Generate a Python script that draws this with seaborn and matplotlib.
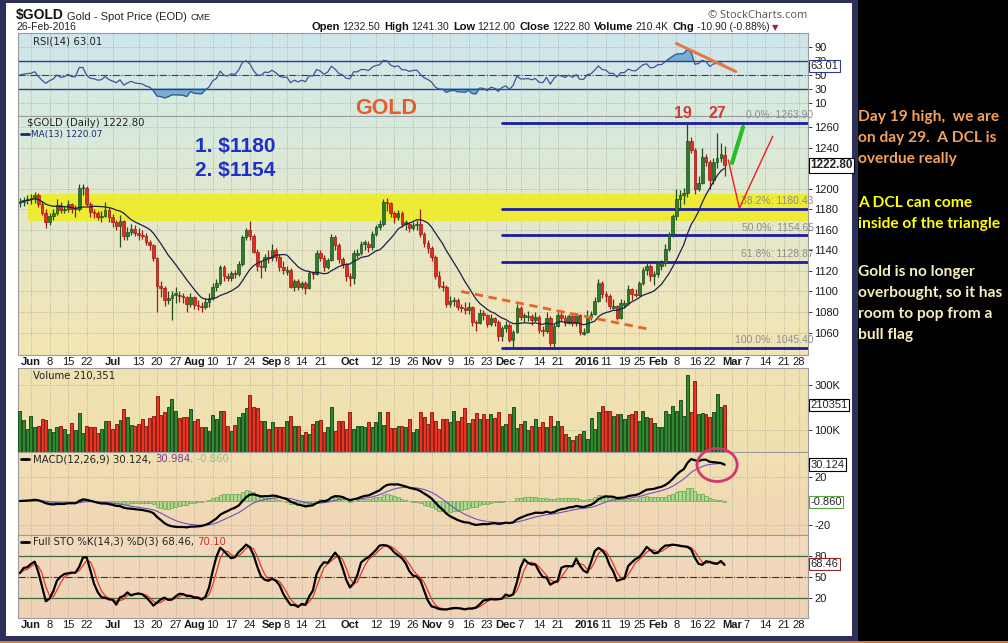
import numpy as np
import pandas as pd
import seaborn as sns
import matplotlib.pyplot as plt
from matplotlib.colors import to_rgb
from matplotlib.patches import Rectangle, Ellipse

# -------------------------------------------------
# 1. Daily $GOLD candles
# -------------------------------------------------
holidays = ["2015-07-03", "2015-09-07", "2015-11-26", "2015-12-25",
            "2016-01-01", "2016-01-18", "2016-02-15", "2016-03-25"]
calendar = pd.bdate_range("2015-05-27", "2016-03-31")
calendar = calendar[~calendar.isin(pd.to_datetime(holidays))]

opens = [
    1186, 1187, 1189,  # May
    1190, 1191, 1194, 1185, 1176, 1168, 1173, 1176, 1184, 1179, 1180, 1185, 1180, 1180, 1201, 1201,
    1185, 1177, 1176, 1172, 1173, 1179,  # Jun
    1172, 1168, 1164, 1169, 1154, 1158, 1161, 1157, 1155, 1154, 1148, 1145, 1133, 1105, 1103, 1092,
    1094, 1099, 1097, 1096, 1095, 1088,  # Jul
    1095, 1087, 1086, 1085, 1090, 1094, 1104, 1108, 1124, 1115, 1113, 1118, 1117, 1127, 1153, 1160,
    1154, 1138, 1125, 1124, 1134,  # Aug
    1133, 1140, 1134, 1124, 1119, 1121, 1104, 1110, 1104, 1108, 1103, 1118, 1117, 1137, 1133, 1124,
    1131, 1153, 1145, 1132, 1127,  # Sep
    1115, 1113, 1135, 1137, 1148, 1146, 1143, 1156, 1163, 1166, 1187, 1186, 1176, 1172, 1176, 1168,
    1166, 1162, 1165, 1166, 1156, 1147,  # Oct
    1142, 1134, 1115, 1105, 1104, 1088, 1091, 1092, 1085, 1084, 1082, 1085, 1070, 1069, 1079, 1077,
    1068, 1074, 1070, 1057,  # Nov
    1064, 1067, 1053, 1061, 1084, 1077, 1075, 1076, 1072, 1075, 1063, 1062, 1074, 1050, 1066, 1077,
    1074, 1069, 1076, 1069, 1077, 1059,  # Dec
    1061, 1075, 1078, 1091, 1108, 1098, 1096, 1084, 1086, 1074, 1087, 1089, 1102, 1098, 1097, 1108,
    1121, 1125, 1115,  # Jan
    1117, 1125, 1128, 1141, 1156, 1173, 1190, 1194, 1196, 1246, 1238, 1200, 1206, 1231, 1226, 1208,
    1226, 1230, 1232.5,  # Feb
]
highs = [
    1191, 1192, 1194,
    1195, 1197, 1196, 1188, 1180, 1176, 1180, 1190, 1187, 1183, 1189, 1186, 1184, 1205, 1205, 1203,
    1187, 1180, 1178, 1178, 1187, 1182,
    1175, 1170, 1174, 1170, 1163, 1166, 1165, 1162, 1160, 1157, 1150, 1146, 1134, 1110, 1105, 1100,
    1100, 1104, 1100, 1099, 1096, 1099,
    1096, 1092, 1090, 1094, 1099, 1108, 1112, 1126, 1126, 1118, 1120, 1121, 1130, 1155, 1162, 1169,
    1156, 1141, 1130, 1136, 1140,
    1146, 1142, 1136, 1130, 1125, 1123, 1112, 1112, 1110, 1110, 1120, 1120, 1140, 1140, 1135, 1133,
    1156, 1155, 1147, 1134, 1128,
    1118, 1140, 1141, 1149, 1150, 1149, 1159, 1165, 1170, 1190, 1191, 1187, 1178, 1179, 1178, 1170,
    1168, 1168, 1170, 1180, 1158, 1150,
    1144, 1135, 1120, 1110, 1106, 1096, 1095, 1094, 1088, 1090, 1090, 1086, 1072, 1083, 1082, 1078,
    1078, 1075, 1072, 1066,
    1071, 1069, 1063, 1088, 1086, 1079, 1081, 1078, 1080, 1077, 1066, 1080, 1076, 1068, 1080, 1080,
    1077, 1078, 1078, 1079, 1078, 1064,
    1082, 1081, 1095, 1112, 1110, 1100, 1098, 1093, 1087, 1093, 1092, 1106, 1103, 1102, 1110, 1124,
    1128, 1127, 1120,
    1130, 1131, 1146, 1158, 1175, 1200, 1199, 1201, 1263.9, 1250, 1240, 1212, 1240, 1234, 1228, 1230,
    1254, 1244, 1241.3,
]
lows = [
    1182, 1183, 1185,
    1185, 1186, 1182, 1174, 1162, 1165, 1170, 1174, 1176, 1176, 1177, 1176, 1172, 1178, 1194, 1183,
    1172, 1171, 1170, 1168, 1172, 1168,
    1163, 1160, 1143, 1150, 1150, 1155, 1154, 1150, 1151, 1145, 1140, 1130, 1080, 1095, 1086, 1088,
    1072, 1089, 1090, 1089, 1080, 1085,
    1083, 1082, 1080, 1083, 1085, 1092, 1100, 1106, 1110, 1110, 1110, 1113, 1115, 1125, 1150, 1150,
    1137, 1120, 1113, 1120, 1128,
    1130, 1130, 1120, 1117, 1116, 1103, 1100, 1101, 1102, 1098, 1102, 1112, 1116, 1130, 1120, 1122,
    1130, 1140, 1128, 1123, 1110,
    1105, 1107, 1133, 1135, 1140, 1138, 1140, 1154, 1160, 1164, 1178, 1172, 1167, 1170, 1163, 1160,
    1158, 1160, 1160, 1153, 1143, 1137,
    1130, 1112, 1103, 1100, 1085, 1085, 1086, 1082, 1080, 1078, 1078, 1066, 1062, 1068, 1072, 1065,
    1066, 1066, 1052, 1052,
    1061, 1051, 1045.4, 1060, 1072, 1070, 1071, 1067, 1070, 1060, 1057, 1060, 1047, 1046, 1065, 1070,
    1066, 1068, 1066, 1066, 1058, 1058,
    1060, 1072, 1077, 1090, 1094, 1090, 1083, 1083, 1072, 1073, 1084, 1087, 1092, 1095, 1096, 1106,
    1116, 1110, 1106,
    1114, 1121, 1125, 1139, 1153, 1170, 1181, 1185, 1192, 1235, 1195, 1198, 1205, 1222, 1200, 1205,
    1220, 1226, 1212,
]
closes = [
    1187, 1189, 1190,
    1191, 1194, 1185, 1176, 1168, 1173, 1176, 1184, 1179, 1180, 1185, 1180, 1180, 1201, 1201, 1185,
    1177, 1176, 1172, 1173, 1179, 1172,
    1168, 1164, 1169, 1154, 1158, 1161, 1157, 1155, 1154, 1148, 1145, 1133, 1105, 1103, 1092, 1094,
    1097, 1097, 1096, 1095, 1088, 1095,
    1087, 1086, 1085, 1090, 1094, 1104, 1108, 1124, 1115, 1113, 1118, 1117, 1127, 1153, 1160, 1154,
    1138, 1125, 1124, 1134, 1133,
    1140, 1134, 1124, 1121, 1121, 1104, 1110, 1104, 1108, 1103, 1118, 1117, 1137, 1133, 1124, 1131,
    1153, 1145, 1132, 1127, 1115,
    1113, 1137, 1137, 1146, 1146, 1143, 1156, 1163, 1166, 1187, 1186, 1176, 1172, 1176, 1166, 1166,
    1162, 1165, 1166, 1156, 1147, 1142,
    1134, 1115, 1105, 1104, 1088, 1091, 1092, 1085, 1084, 1082, 1085, 1070, 1069, 1079, 1077, 1068,
    1074, 1070, 1057, 1064,
    1067, 1053, 1061, 1084, 1075, 1075, 1076, 1072, 1075, 1063, 1062, 1074, 1050, 1066, 1077, 1074,
    1069, 1076, 1069, 1077, 1061, 1061,
    1075, 1078, 1091, 1108, 1098, 1096, 1086, 1086, 1074, 1089, 1089, 1102, 1098, 1097, 1108, 1121,
    1125, 1115, 1117,
    1128, 1128, 1141, 1156, 1173, 1190, 1194, 1196, 1246, 1238, 1200, 1206, 1231, 1226, 1208, 1226,
    1230, 1233.7, 1222.8,
]
# volume in thousands
volumes = [
    185, 143, 103, 163, 110, 118, 148, 143, 103, 88, 110,
    118, 103, 80, 128, 98, 173, 83, 118, 110, 110,
    83, 103, 137, 140, 103, 125, 143, 192, 158, 122, 118,
    125, 148, 118, 152, 163, 252, 167, 177, 200, 237,
    182, 152, 155, 155, 192, 140, 148, 110, 110, 95, 167,
    148, 185, 182, 118, 95, 122, 155, 173, 197, 255,
    200, 197, 140, 137, 103, 133, 110, 110, 113, 137,
    163, 118, 118, 78, 88, 80, 125, 140, 143, 88,
    110, 200, 95, 137, 137, 103, 177, 103, 118, 118,
    110, 133, 113, 133, 180, 120, 180, 107, 107, 118, 118,
    110, 148, 88, 103, 177, 155, 125,
    177, 140, 103, 148, 148, 133, 182, 137, 155, 197,
    128, 148, 173, 148, 170, 148, 170, 152, 177, 118,
    125, 170, 203, 107, 125, 137, 98, 118, 148, 113,
    133, 110, 163, 118, 140, 118, 80, 69, 54, 73,
    80, 92, 58, 152, 103, 177, 207, 185, 185, 163,
    170, 170, 148, 167, 170, 182, 140, 185, 158, 152,
    128, 110, 110, 182, 170, 207, 185, 233, 163,
    344, 177, 319, 170, 173, 170, 158, 177, 260, 200, 210,
]

# annotations drawn on the chart
band_low, band_high = 1169, 1195
fib_start = "2015-11-30"
fib_levels = [1263.90, 1180.43, 1154.65, 1128.87, 1045.40]
fib_labels = ["0.0%: 1263.90", "38.2%: 1180.43", "50.0%: 1154.65", "61.8%: 1128.87", "100.0%: 1045.40"]
trend_dates = ["2015-11-12", "2016-01-28"]
trend_prices = [1100, 1063]
green_dates = ["2016-03-01", "2016-03-04"]
green_prices = [1225, 1260]
red_dates = ["2016-02-29", "2016-03-03", "2016-03-16"]
red_prices = [1228, 1181, 1251]
rsi_line_dates = ["2016-02-08", "2016-03-02"]
rsi_line_values = [95, 55]
circle_date, circle_macd = "2016-02-24", 30

tick_dates = ["2015-06-01", "2015-06-08", "2015-06-15", "2015-06-22", "2015-07-01", "2015-07-13",
              "2015-07-20", "2015-07-27", "2015-08-03", "2015-08-10", "2015-08-17", "2015-08-24",
              "2015-09-01", "2015-09-08", "2015-09-14", "2015-09-21", "2015-10-01", "2015-10-12",
              "2015-10-19", "2015-10-26", "2015-11-02", "2015-11-09", "2015-11-16", "2015-11-23",
              "2015-12-01", "2015-12-07", "2015-12-14", "2015-12-21", "2016-01-04", "2016-01-11",
              "2016-01-19", "2016-01-25", "2016-02-01", "2016-02-08", "2016-02-16", "2016-02-22",
              "2016-03-01", "2016-03-07", "2016-03-14", "2016-03-21", "2016-03-28"]
tick_labels = ["Jun", "8", "15", "22", "Jul", "13", "20", "27", "Aug", "10", "17", "24",
               "Sep", "8", "14", "21", "Oct", "12", "19", "26", "Nov", "9", "16", "23",
               "Dec", "7", "14", "21", "2016", "11", "19", "25", "Feb", "8", "16", "22",
               "Mar", "7", "14", "21", "28"]
price_ticks = [1060, 1080, 1100, 1120, 1140, 1160, 1180, 1200, 1220, 1240, 1260]
price_tick_labels = ["1060", "1080", "1100", "1120", "1140", "1160", "1180", "1200", "", "1240", "1260"]

# -------------------------------------------------
# 2. Indicators
# -------------------------------------------------
def pos(d):
    return calendar.get_loc(pd.Timestamp(d))

o = np.array(opens, float)
h = np.array(highs, float)
l = np.array(lows, float)
c = np.array(closes, float)
v = np.array(volumes, float)
n = len(c)
xi = np.arange(n)
cs = pd.Series(c)

ma13 = cs.rolling(13, min_periods=1).mean()

avg_gain, avg_loss = 3.0, 3.0
rsi = [50.0]
for d in np.diff(c):
    avg_gain = (avg_gain * 13 + max(d, 0)) / 14
    avg_loss = (avg_loss * 13 + max(-d, 0)) / 14
    rsi.append(100 - 100 / (1 + avg_gain / avg_loss))
rsi = np.array(rsi)

macd = cs.ewm(span=12, adjust=False).mean() - cs.ewm(span=26, adjust=False).mean()
signal = macd.ewm(span=9, adjust=False).mean()
hist = macd - signal

ll = pd.Series(l).rolling(14, min_periods=1).min()
hh = pd.Series(h).rolling(14, min_periods=1).max()
fast_k = 100 * (cs - ll) / (hh - ll)
full_k = fast_k.rolling(3, min_periods=1).mean()
full_d = full_k.rolling(3, min_periods=1).mean()

up = np.r_[c[0] >= o[0], c[1:] >= c[:-1]]

# -------------------------------------------------
# 3. Figure and panels
# -------------------------------------------------
sns.set_style("white")
plt.rcParams["font.family"] = ["Liberation Sans", "DejaVu Sans"]

W, H = 1008, 643
fig = plt.figure(figsize=(W / 100, H / 100), dpi=100, facecolor="black")

def frame(x0, y0, x1, y1, color, z):
    fig.add_artist(Rectangle((x0 / W, 1 - y1 / H), (x1 - x0) / W, (y1 - y0) / H,
                             transform=fig.transFigure, color=color, zorder=z, lw=0))

frame(0, 0, 858, 641, "#2d3157", -10)
frame(6, 3, 852, 636, "white", -9)
frame(0, 641, W, 643, "#e0782c", -9)

def box(top, bottom):
    return [18 / W, 1 - bottom / H, 790 / W, (bottom - top) / H]

ax_rsi = fig.add_axes(box(33, 116))
ax_px = fig.add_axes(box(116, 355))
ax_vol = fig.add_axes(box(368, 452))
ax_macd = fig.add_axes(box(452, 535))
ax_sto = fig.add_axes(box(535, 618))

def paint(ax, top, bottom):
    t = np.linspace(0, 1, 64)[:, None]
    img = (np.array(to_rgb(top)) * (1 - t) + np.array(to_rgb(bottom)) * t)[:, None, :]
    ax.imshow(img, extent=[0, 1, 0, 1], transform=ax.transAxes, aspect="auto",
              zorder=0, interpolation="bicubic")

paint(ax_rsi, "#cfe5ee", "#d8ecdc")
paint(ax_px, "#d7eadf", "#f4e5b3")
paint(ax_vol, "#f1e3b4", "#f0dfae")
paint(ax_macd, "#f0e0b2", "#f1d6b6")
paint(ax_sto, "#f2dbbf", "#f0d2b6")

tick_pos = [pos(d) for d in tick_dates]

def style_panel(ax, ylim, yticks, ylabels=None, dates=False):
    ax.set_xlim(-0.5, 212.5)
    ax.set_ylim(*ylim)
    ax.set_xticks(tick_pos)
    if dates:
        ax.set_xticklabels(tick_labels)
        for lab in ax.get_xticklabels():
            txt = lab.get_text()
            if not txt.isdigit() or len(txt) == 4:
                lab.set_fontweight("bold")
                lab.set_fontsize(8.5)
    else:
        ax.set_xticklabels([])
    ax.set_yticks(yticks)
    ax.set_yticklabels(ylabels if ylabels else [str(t) for t in yticks])
    ax.yaxis.tick_right()
    ax.tick_params(axis="x", length=0, pad=1.5, labelsize=8, colors="#1a1a1a")
    ax.tick_params(axis="y", length=3, width=0.6, pad=1.5, labelsize=8, colors="#1a1a1a")
    ax.set_axisbelow(True)
    ax.grid(True, color="#a9a798", ls=":", lw=0.6)
    for sp in ax.spines.values():
        sp.set_color("#9c9c9c")
        sp.set_linewidth(0.8)

def tag(ax, y, s, ec="black", bold=False):
    ax.text(1.003, y, s, transform=ax.get_yaxis_transform(), ha="left", va="center",
            fontsize=8.5 if bold else 8, fontweight="bold" if bold else "normal",
            bbox=dict(boxstyle="square,pad=0.12", fc="white", ec=ec, lw=0.8),
            clip_on=False, zorder=20)

GREEN, RED = "#2b7d2b", "#e8291e"
GREEN_E, RED_E = "#1c4f1c", "#9a1c12"
cols = np.where(up, GREEN, RED)
edges = np.where(up, GREEN_E, RED_E)

# --- RSI ---
ax_rsi.fill_between(xi, 70, rsi, where=rsi > 70, interpolate=True, color="#79aed2", zorder=2)
ax_rsi.fill_between(xi, 30, rsi, where=rsi < 30, interpolate=True, color="#79aed2", zorder=2)
sns.lineplot(x=xi, y=rsi, ax=ax_rsi, color="#3a559a", lw=0.9, zorder=3)
ax_rsi.axhline(70, color="#2c3b8c", lw=1.0, zorder=2)
ax_rsi.axhline(30, color="#2c3b8c", lw=1.0, zorder=2)
ax_rsi.axhline(50, color="#2c3b8c", lw=0.8, ls="-.", zorder=2)
sns.lineplot(x=[pos(d) for d in rsi_line_dates], y=rsi_line_values, ax=ax_rsi,
             color="#e27a45", lw=2.2, zorder=5)
style_panel(ax_rsi, (-8.6, 110), [10, 30, 50, 70, 90])
tag(ax_rsi, 63.01, "63.01", ec="#2c3b8c")

# --- price ---
ax_px.fill_between([2.2, 212.5], band_low, band_high, color="#f0ec26", alpha=0.9, zorder=1, lw=0)
fx0 = pos(fib_start)
for lev, lab in zip(fib_levels, fib_labels):
    ax_px.plot([fx0, 212.5], [lev, lev], color="#1c1ca2", lw=2, zorder=2)
    ax_px.text(1.007, lev + 7.5, lab, transform=ax_px.get_yaxis_transform(), ha="right",
               va="center", fontsize=7.5, color="#8e8e8e", clip_on=False, zorder=6)
ax_px.vlines(xi, l, h, colors=edges, lw=0.9, zorder=3)
ax_px.bar(xi, np.maximum(np.abs(c - o), 0.8), bottom=np.minimum(o, c), width=0.72,
          color=cols, edgecolor=edges, lw=0.5, zorder=4)
sns.lineplot(x=xi, y=ma13.values, ax=ax_px, color="#1b1f4a", lw=0.9, zorder=5)
sns.lineplot(x=[pos(d) for d in trend_dates], y=trend_prices, ax=ax_px,
             color="#e8642a", lw=2, ls=(0, (3, 2)), zorder=6)
sns.lineplot(x=[pos(d) for d in green_dates], y=green_prices, ax=ax_px,
             color="#22c022", lw=3, zorder=6)
sns.lineplot(x=[pos(d) for d in red_dates], y=red_prices, ax=ax_px,
             color="#e82020", lw=1, zorder=6, sort=False)
style_panel(ax_px, (1038.2, 1270.7), price_ticks, price_tick_labels, dates=True)
tag(ax_px, 1222.8, "1222.80", bold=True)

# --- volume ---
ax_vol.bar(xi, v, width=0.8, color=np.where(up, "#2f8a2f", "#ee3322"),
           edgecolor=np.where(up, "#1e4f1e", "#8a2216"), lw=0.7, zorder=3)
style_panel(ax_vol, (0, 376), [100, 300], ["100K", "300K"])
tag(ax_vol, 210.351, "210351")

# --- MACD ---
ax_macd.bar(xi, hist.values, width=0.85, color="#a6d98c", edgecolor="#5f9f45", lw=0.5,
            alpha=0.9, zorder=2)
sns.lineplot(x=xi, y=signal.values, ax=ax_macd, color="#7050c0", lw=0.8, zorder=3)
sns.lineplot(x=xi, y=macd.values, ax=ax_macd, color="black", lw=1.6, zorder=4)
ax_macd.add_patch(Ellipse((pos(circle_date), circle_macd), 10.8, 27.5, fill=False,
                          ec="#d3386c", lw=2, clip_on=False, zorder=10))
style_panel(ax_macd, (-28.3, 40.8), [-20, 20])
tag(ax_macd, 30.124, "30.124")
tag(ax_macd, -0.86, "-0.860", ec="#5f9f45")

# --- stochastics ---
ax_sto.axhline(80, color="#3d6b3d", lw=0.9, zorder=2)
ax_sto.axhline(20, color="#3d6b3d", lw=0.9, zorder=2)
ax_sto.axhline(50, color="#333333", lw=0.8, ls="-.", zorder=2)
sns.lineplot(x=xi, y=full_d.values, ax=ax_sto, color="#e03a2a", lw=0.9, zorder=3)
sns.lineplot(x=xi, y=full_k.values, ax=ax_sto, color="black", lw=1.6, zorder=4)
style_panel(ax_sto, (-8.6, 110), [20, 50, 80], dates=True)
tag(ax_sto, 68.46, "68.46", ec="#8a2a2a")

# -------------------------------------------------
# 4. Text layer (pixel coordinates)
# -------------------------------------------------
ov = fig.add_axes([0, 0, 1, 1], zorder=30)
ov.set_xlim(0, W)
ov.set_ylim(H, 0)
ov.axis("off")

def chain(x, y, pieces):
    prev = None
    for s, kw, gap in pieces:
        if prev is None:
            prev = ov.text(x, y, s, ha="left", va="baseline", **kw)
        else:
            prev = ov.annotate(s, xy=(1, 0), xycoords=prev, xytext=(gap, 0),
                               textcoords="offset points", ha="left", va="bottom", **kw)

b8 = dict(fontsize=8, fontweight="bold", color="#111")
r8 = dict(fontsize=7.5, color="#222")
chain(16, 19, [("$GOLD", dict(fontsize=10, fontweight="bold", color="#111"), 0),
               ("Gold - Spot Price (EOD)", dict(fontsize=8, color="#222"), 2.5),
               ("CME", dict(fontsize=6.5, color="#222"), 2.5)])
ov.text(16, 30, "26-Feb-2016", fontsize=7.5, color="#222", va="baseline")
chain(312, 30, [("Open", b8, 0), ("1232.50", r8, 1.5), ("High", b8, 3), ("1241.30", r8, 1.5),
                ("Low", b8, 3), ("1212.00", r8, 1.5), ("Close", b8, 3), ("1222.80", r8, 1.5),
                ("Volume", b8, 3), ("210.4K", r8, 1.5), ("Chg", b8, 3),
                ("-10.90 (-0.88%)", r8, 1.5),
                ("\u25bc", dict(fontsize=6, color="#9a2a3a", family=["DejaVu Sans"]), 2)])
ov.text(807, 18, "\u00a9 StockCharts.com", fontsize=8, color="#555", ha="right", va="baseline",
        family=["Open Sans", "DejaVu Sans"])

mono = dict(family=["DejaVu Sans"], fontsize=7.3, color="#222", va="center")
ov.text(33, 41, "RSI(14) 63.01", **mono)
ov.text(27, 123, "$GOLD (Daily) 1222.80", **mono)
ov.plot([21, 29], [134, 134], color="#1a2a70", lw=2)
ov.text(31, 134, "MA(13) 1220.07", family=["DejaVu Sans"], fontsize=6.4, color="#1a2a70",
        va="center")
ov.text(33, 376, "Volume 210,351", **mono)
ov.plot([21, 29], [459, 459], color="black", lw=2)
chain(33, 462, [("MACD(12,26,9) 30.124,", dict(family=["DejaVu Sans"], fontsize=7.3, color="#222"), 0),
                ("30.984", dict(family=["DejaVu Sans"], fontsize=7.3, color="#7a3a9a"), 2.5),
                (", -0.860", dict(family=["DejaVu Sans"], fontsize=7.3, color="#8cc484"), 0)])
ov.plot([21, 29], [542, 542], color="black", lw=2)
chain(33, 545, [("Full STO %K(14,3) %D(3) 68.46,", dict(family=["DejaVu Sans"], fontsize=7.3, color="#222"), 0),
                ("70.10", dict(family=["DejaVu Sans"], fontsize=7.3, color="#d03020"), 2.5)])

ov.text(386, 109, "GOLD", fontsize=15.5, fontweight="bold", color="#e85a2a", ha="center", va="center")
ov.text(195, 146, "1. $1180", fontsize=15, fontweight="bold", color="#1c30cc", va="center")
ov.text(195, 171, "2. $1154", fontsize=15, fontweight="bold", color="#1c30cc", va="center")
ov.text(683, 113, "19", fontsize=11.5, fontweight="bold", color="#d43838", ha="center", va="center")
ov.text(717, 113, "27", fontsize=11.5, fontweight="bold", color="#d43838", ha="center", va="center")

side = dict(family=["Lato", "DejaVu Sans"], fontsize=11.2, fontweight="bold", va="center")
notes = [("Day 19 high,  we are", 117, "#f4a15c"), ("on day 29.  A DCL is", 138, "#f4a15c"),
         ("overdue really", 159, "#f4a15c"), ("A DCL can come", 203, "#ffff00"),
         ("inside of the triangle", 224, "#ffff00"), ("Gold is no longer", 272, "#f7efbe"),
         ("overbought, so it has", 293, "#f7efbe"), ("room to pop from a", 314, "#f7efbe"),
         ("bull flag", 335, "#f7efbe")]
for s, y, col in notes:
    ov.text(858, y, s, color=col, **side)

plt.savefig("out.png", dpi=100, facecolor=fig.get_facecolor())
